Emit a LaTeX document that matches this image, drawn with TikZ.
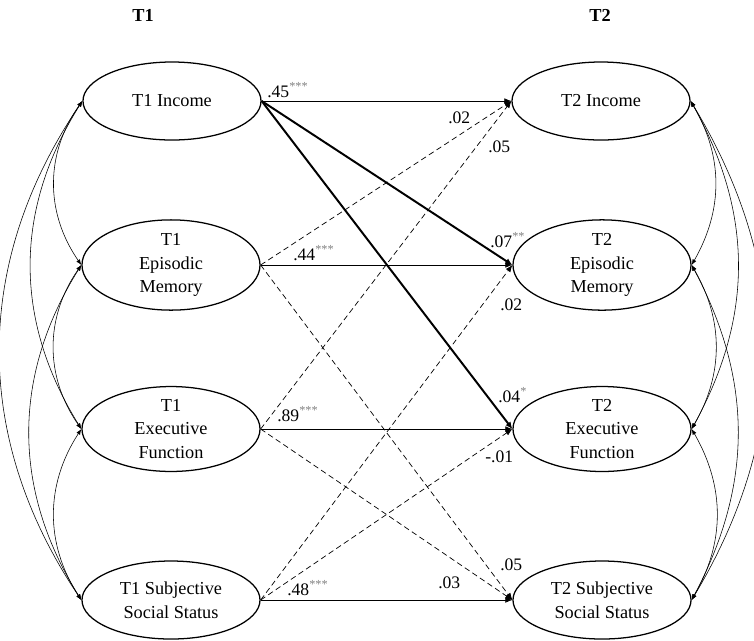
\documentclass[tikz,border=0pt]{standalone}
\usepackage{fontspec}
\setmainfont{Liberation Serif}
\usetikzlibrary{shapes,arrows.meta}

\begin{document}
\begin{tikzpicture}[x=0.025cm,y=-0.025cm,
        var/.style={ellipse,draw,line width=0.9pt,minimum width=4.45cm,minimum height=1.95cm,inner sep=0pt,align=center,font=\fontsize{13}{17}\selectfont},
        coef/.style={anchor=base west,inner sep=0pt,font=\fontsize{12.5}{15}\selectfont},
        path/.style={line width=0.45pt,-{Latex[length=5pt,width=4pt]}},
        cross/.style={line width=0.5pt,dash pattern=on 4pt off 2.5pt,-{Latex[length=5pt,width=4pt]}},
        strong/.style={line width=1.4pt,-{Latex[length=5pt,width=4.5pt]}},
        cov/.style={line width=0.4pt,{Latex[length=4pt,width=3pt]}-{Latex[length=4pt,width=3pt]}}]
        \useasboundingbox (0,0) rectangle (754,640);
        \newcommand{\stars}[1]{\textsuperscript{\color{gray}#1}}

        \node[font=\fontsize{13}{15}\selectfont\bfseries] (H1) at (143,15) {T1};
        \node[font=\fontsize{13}{15}\selectfont\bfseries] (H2) at (600,15) {T2};

        \node[var] (inc1) at (172,101) {T1 Income};
        \node[var] (em1) at (171,265) {T1\\Episodic\\Memory};
        \node[var] (ef1) at (171,429) {T1\\Executive\\Function};
        \node[var] (sss1) at (171,600) {T1 Subjective\\Social Status};

        \node[var] (inc2) at (601,101) {T2 Income};
        \node[var] (em2) at (602,265) {T2\\Episodic\\Memory};
        \node[var] (ef2) at (602,429) {T2\\Executive\\Function};
        \node[var] (sss2) at (602,600) {T2 Subjective\\Social Status};

        \draw[path] (inc1.east) -- (inc2.west);
        \draw[path] (em1.east) -- (em2.west);
        \draw[path] (ef1.east) -- (ef2.west);
        \draw[path] (sss1.east) -- (sss2.west);

        \draw[strong] (inc1.east) -- (em2.west);
        \draw[strong] (inc1.east) -- (ef2.west);

        \draw[cross] (em1.east) -- (inc2.west);
        \draw[cross] (ef1.east) -- (inc2.west);
        \draw[cross] (em1.east) -- (sss2.west);
        \draw[cross] (ef1.east) -- (sss2.west);
        \draw[cross] (sss1.east) -- (em2.west);
        \draw[cross] (sss1.east) -- (ef2.west);

        \draw[cov] (inc1.west) to[bend right=35] (em1.west);
        \draw[cov] (inc1.west) to[bend right=32] (ef1.west);
        \draw[cov] (inc1.west) to[bend right=34] (sss1.west);
        \draw[cov] (em1.west) to[bend right=35] (ef1.west);
        \draw[cov] (em1.west) to[bend right=32] (sss1.west);
        \draw[cov] (ef1.west) to[bend right=33] (sss1.west);

        \draw[cov] (inc2.east) to[bend left=30] (em2.east);
        \draw[cov] (inc2.east) to[bend left=29] (ef2.east);
        \draw[cov] (inc2.east) to[bend left=31] (sss2.east);
        \draw[cov] (em2.east) to[bend left=30] (ef2.east);
        \draw[cov] (em2.east) to[bend left=28] (sss2.east);
        \draw[cov] (ef2.east) to[bend left=30] (sss2.east);

        \node[coef] (b45) at (267,97) {.45\stars{***}};
        \node[coef] (b44) at (293,260) {.44\stars{***}};
        \node[coef] (b89) at (277,421) {.89\stars{***}};
        \node[coef] (b48) at (287,595) {.48\stars{***}};
        \node[coef] (c02a) at (448,123) {.02};
        \node[coef] (c05a) at (488,152) {.05};
        \node[coef] (c07) at (490,247) {.07\stars{**}};
        \node[coef] (c02b) at (500,310) {.02};
        \node[coef] (c04) at (498,402) {.04\stars{*}};
        \node[coef] (c01) at (485,462) {-.01};
        \node[coef] (c05b) at (500,570) {.05};
        \node[coef] (c03) at (438,588) {.03};
      \end{tikzpicture}
\end{document}
